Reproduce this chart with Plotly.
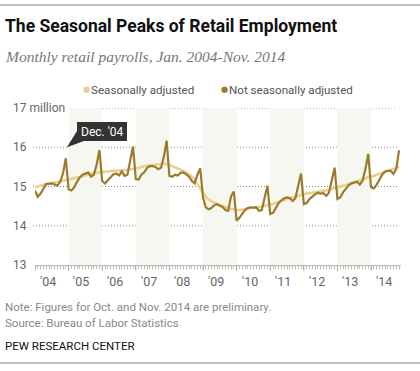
import plotly.graph_objects as go

# ---------------- data (millions) ----------------
years = list(range(2004, 2015))
year_labels = ["'04", "'05", "'06", "'07", "'08", "'09", "'10", "'11", "'12", "'13", "'14"]

nsa_2004 = [14.89, 14.74, 14.82, 14.93, 15.06, 15.07, 15.08, 15.05, 15.02, 15.12, 15.33, 15.72]
nsa_2005 = [14.93, 14.90, 14.98, 15.12, 15.23, 15.30, 15.33, 15.36, 15.25, 15.30, 15.55, 15.93]
nsa_2006 = [15.14, 15.08, 15.16, 15.23, 15.31, 15.33, 15.28, 15.38, 15.27, 15.30, 15.62, 16.02]
nsa_2007 = [15.19, 15.18, 15.30, 15.36, 15.47, 15.52, 15.52, 15.50, 15.44, 15.48, 15.75, 16.17]
nsa_2008 = [15.27, 15.25, 15.30, 15.28, 15.35, 15.36, 15.31, 15.25, 15.14, 15.08, 15.30, 15.46]
nsa_2009 = [14.72, 14.47, 14.42, 14.45, 14.52, 14.55, 14.51, 14.48, 14.40, 14.38, 14.75, 14.87]
nsa_2010 = [14.13, 14.20, 14.30, 14.40, 14.45, 14.47, 14.46, 14.47, 14.38, 14.40, 14.72, 15.02]
nsa_2011 = [14.30, 14.33, 14.45, 14.58, 14.65, 14.70, 14.72, 14.70, 14.63, 14.70, 15.02, 15.33]
nsa_2012 = [14.55, 14.58, 14.68, 14.75, 14.80, 14.84, 14.82, 14.83, 14.76, 14.85, 15.15, 15.48]
nsa_2013 = [14.68, 14.72, 14.85, 14.95, 15.03, 15.08, 15.10, 15.12, 15.05, 15.15, 15.45, 15.83]
nsa_2014 = [14.98, 14.95, 15.05, 15.19, 15.30, 15.38, 15.40, 15.40, 15.32, 15.45, 15.92]

sa_2004 = [14.98, 15.00, 15.03, 15.05, 15.07, 15.08, 15.09, 15.10, 15.11, 15.13, 15.15, 15.16]
sa_2005 = [15.17, 15.19, 15.21, 15.23, 15.25, 15.27, 15.29, 15.31, 15.32, 15.34, 15.35, 15.36]
sa_2006 = [15.37, 15.38, 15.39, 15.40, 15.40, 15.40, 15.41, 15.41, 15.42, 15.42, 15.43, 15.44]
sa_2007 = [15.45, 15.47, 15.50, 15.52, 15.53, 15.54, 15.55, 15.56, 15.57, 15.58, 15.58, 15.57]
sa_2008 = [15.55, 15.52, 15.49, 15.46, 15.43, 15.40, 15.36, 15.31, 15.25, 15.16, 15.05, 14.93]
sa_2009 = [14.83, 14.74, 14.67, 14.62, 14.59, 14.56, 14.53, 14.50, 14.48, 14.45, 14.43, 14.42]
sa_2010 = [14.40, 14.40, 14.41, 14.43, 14.44, 14.45, 14.46, 14.47, 14.48, 14.49, 14.51, 14.52]
sa_2011 = [14.54, 14.56, 14.58, 14.61, 14.63, 14.66, 14.68, 14.70, 14.72, 14.74, 14.77, 14.79]
sa_2012 = [14.80, 14.82, 14.83, 14.84, 14.85, 14.86, 14.87, 14.89, 14.90, 14.92, 14.94, 14.96]
sa_2013 = [14.97, 14.99, 15.01, 15.03, 15.05, 15.08, 15.10, 15.13, 15.15, 15.18, 15.21, 15.24]
sa_2014 = [15.25, 15.27, 15.30, 15.33, 15.36, 15.39, 15.41, 15.43, 15.45, 15.48, 15.51]

y_ticks = [13, 14, 15, 16, 17]
y_tick_labels = ["13", "14", "15", "16", "17 million"]
shaded_years = [2005, 2007, 2009, 2011, 2013]
callout_month = 11  # Dec. '04
callout_text = "Dec. '04"

nsa = (nsa_2004 + nsa_2005 + nsa_2006 + nsa_2007 + nsa_2008 + nsa_2009 +
       nsa_2010 + nsa_2011 + nsa_2012 + nsa_2013 + nsa_2014)
sa = (sa_2004 + sa_2005 + sa_2006 + sa_2007 + sa_2008 + sa_2009 +
      sa_2010 + sa_2011 + sa_2012 + sa_2013 + sa_2014)
months = list(range(len(nsa)))  # 0 = Jan 2004

# ---------------- styling ----------------
W, H = 420, 371
ML, MR, MT, MB = 35, 19, 108, 106
PW, PH = W - ML - MR, H - MT - MB
XR = [0, 130.7]
YR = [13, 17]

def px_x(p):
    return (p - ML) / PW

def px_y(p):
    return (H - MB - p) / PH

C_NSA = "#9c7b2c"
C_SA = "#ead08e"
FONT = "Roboto"

fig = go.Figure()
fig.add_trace(go.Scatter(x=months, y=sa, mode="lines",
                         line=dict(color=C_SA, width=2.6), showlegend=False, hoverinfo="skip"))
fig.add_trace(go.Scatter(x=months, y=nsa, mode="lines",
                         line=dict(color=C_NSA, width=2.2), showlegend=False, hoverinfo="skip"))

shapes = []
# shaded alternate years
for yr in shaded_years:
    i0 = (yr - 2004) * 12
    shapes.append(dict(type="rect", xref="x", yref="y", x0=i0, x1=i0 + 12, y0=YR[0], y1=YR[1],
                       fillcolor="#f7f7f2", line=dict(width=0), layer="below"))
# dotted gridlines
for v in y_ticks[1:]:
    x0 = px_x(70) if v == 17 else px_x(33)
    shapes.append(dict(type="line", xref="paper", yref="y", x0=x0, x1=px_x(397), y0=v, y1=v,
                       line=dict(color="#888", width=1, dash="1px,2px"), layer="below"))
# year boundary ticks
for k in range(len(years)):
    i0 = k * 12
    shapes.append(dict(type="line", xref="x", yref="paper", x0=i0, x1=i0,
                       y0=0, y1=-6 / PH, line=dict(color="#aaa", width=1)))
# top / bottom rules
for ypx in (5, 363):
    shapes.append(dict(type="line", xref="paper", yref="paper", x0=px_x(0), x1=px_x(W),
                       y0=px_y(ypx), y1=px_y(ypx), line=dict(color="#c0c0c0", width=2)))

# callout box with tail (data coords)
def dx(p):
    return (p - ML) / PW * (XR[1] - XR[0]) + XR[0]

def dy(p):
    return YR[0] + (H - MB - p) / PH * (YR[1] - YR[0])

bx0, bx1, by0, by1 = dx(77), dx(127), dy(141), dy(122)
tip_x, tip_y = callout_month + 0.4, 16.0
path = (f"M {bx0},{by1} L {bx1},{by1} L {bx1},{by0} L {dx(84)},{by0} "
        f"L {tip_x},{tip_y} L {bx0},{dy(131)} Z")
shapes.append(dict(type="path", xref="x", yref="y", path=path,
                   fillcolor="#333333", line=dict(width=0)))

annotations = []
annotations.append(dict(xref="x", yref="y", x=(bx0 + bx1) / 2, y=(by0 + by1) / 2,
                        text=callout_text, showarrow=False,
                        font=dict(family=FONT, size=12, color="white")))
# y tick labels
for v, lab in zip(y_ticks, y_tick_labels):
    annotations.append(dict(xref="paper", yref="y", x=px_x(11), y=v, xanchor="left",
                            yanchor="middle", text=lab, showarrow=False,
                            font=dict(family=FONT, size=12, color="#666")))
# x tick labels
for k, lab in enumerate(year_labels):
    annotations.append(dict(xref="x", yref="paper", x=k * 12 + 4.6, y=px_y(281),
                            xanchor="center", yanchor="middle", text=lab, showarrow=False,
                            font=dict(family=FONT, size=12.5, color="#666")))
# title, subtitle
annotations.append(dict(xref="paper", yref="paper", x=px_x(3), y=px_y(26), xanchor="left",
                        yanchor="middle", showarrow=False,
                        text="<b>The Seasonal Peaks of Retail Employment</b>",
                        font=dict(family=FONT, size=17.5, color="#111")))
annotations.append(dict(xref="paper", yref="paper", x=px_x(3), y=px_y(56), xanchor="left",
                        yanchor="middle", showarrow=False,
                        text="<i>Monthly retail payrolls, Jan. 2004-Nov. 2014</i>",
                        font=dict(family="Liberation Serif", size=15.5, color="#777")))
# legend
dot = "<span style='color:{c};font-size:15px'>●</span>"
annotations.append(dict(xref="paper", yref="paper", x=px_x(80), y=px_y(89), xanchor="left",
                        yanchor="middle", showarrow=False,
                        text=dot.format(c=C_SA) + "Seasonally adjusted",
                        font=dict(family=FONT, size=11.6, color="#555")))
annotations.append(dict(xref="paper", yref="paper", x=px_x(218), y=px_y(89), xanchor="left",
                        yanchor="middle", showarrow=False,
                        text=dot.format(c=C_NSA) + "Not seasonally adjusted",
                        font=dict(family=FONT, size=11.6, color="#555")))
# notes
annotations.append(dict(xref="paper", yref="paper", x=px_x(3), y=px_y(307), xanchor="left",
                        yanchor="middle", showarrow=False,
                        text="Note: Figures for Oct. and Nov. 2014 are preliminary.",
                        font=dict(family=FONT, size=11.5, color="#888")))
annotations.append(dict(xref="paper", yref="paper", x=px_x(3), y=px_y(323), xanchor="left",
                        yanchor="middle", showarrow=False,
                        text="Source: Bureau of Labor Statistics",
                        font=dict(family=FONT, size=11.5, color="#888")))
annotations.append(dict(xref="paper", yref="paper", x=px_x(3), y=px_y(346), xanchor="left",
                        yanchor="middle", showarrow=False,
                        text="PEW RESEARCH CENTER",
                        font=dict(family=FONT, size=11.5, color="#111")))

fig.update_layout(
    width=W, height=H,
    margin=dict(l=ML, r=MR, t=MT, b=MB, pad=0),
    paper_bgcolor="white", plot_bgcolor="white",
    showlegend=False,
    shapes=shapes, annotations=annotations,
    xaxis=dict(range=XR, showgrid=False, zeroline=False, showline=True, linecolor="#bbb",
               linewidth=1, tickmode="array", tickvals=[], showticklabels=False,
               minor=dict(ticks="outside", ticklen=3, tickcolor="#bbb", tickmode="linear",
                          tick0=0, dtick=1, showgrid=False)),
    yaxis=dict(range=YR, showgrid=False, zeroline=False, showline=False,
               showticklabels=False, ticks=""),
)

fig.write_html("out.html", config={"displayModeBar": False},
               post_script="document.body.style.margin='0';document.body.style.overflow='hidden';")
